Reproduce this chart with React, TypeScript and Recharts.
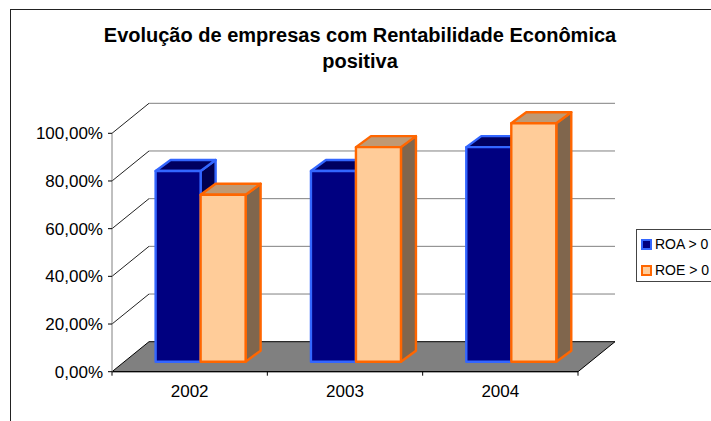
import React from "react";
import { BarChart, Bar, XAxis, YAxis, CartesianGrid, Legend } from "recharts";

const years = ["2002", "2003", "2004"];
const roaValues = [0.8, 0.8, 0.9];
const roeValues = [0.7, 0.9, 1.0];
const yTicks = [0, 0.2, 0.4, 0.6, 0.8, 1];
const titleLines = ["Evolução de empresas com Rentabilidade Econômica", "positiva"];

const series = [
  { key: "roa", name: "ROA > 0", fill: "#000080", stroke: "#3366FF", top: "#000060", side: "#000050" },
  { key: "roe", name: "ROE > 0", fill: "#FFCC99", stroke: "#FF6600", top: "#BF9973", side: "#80664D" },
];

const data = years.map((year, i) => ({ year, roa: roaValues[i], roe: roeValues[i] }));

const FONT = "'Liberation Sans', Arial, sans-serif";
const WALL_DX = 37;
const WALL_DY = -30;
const BAR_OFFSET_X = 11;
const BAR_OFFSET_Y = -10;
const BAR_DEPTH_X = 15;
const BAR_DEPTH_Y = -11;

const pct = (v: number) => `${(v * 100).toFixed(2).replace(".", ",")}%`;

function makeBar(s: (typeof series)[number]) {
  return function Bar3D(props: any) {
    const x = props.x + BAR_OFFSET_X;
    const y = props.y + BAR_OFFSET_Y;
    const { width: w, height: h } = props;
    const dx = BAR_DEPTH_X;
    const dy = BAR_DEPTH_Y;
    const common = { stroke: s.stroke, strokeWidth: 2.4, strokeLinejoin: "round" as const };
    return (
      <g>
        <polygon points={`${x + w},${y} ${x + w + dx},${y + dy} ${x + w + dx},${y + h + dy} ${x + w},${y + h}`} fill={s.side} {...common} />
        <polygon points={`${x},${y} ${x + dx},${y + dy} ${x + w + dx},${y + dy} ${x + w},${y}`} fill={s.top} {...common} />
        <rect x={x} y={y} width={w} height={h} fill={s.fill} {...common} />
      </g>
    );
  };
}

function WallLine(props: any) {
  const { x1, x2, y1 } = props;
  const isFloor = Math.abs(y1 - props.height - props.y) < 0.5;
  if (isFloor) {
    return (
      <g>
        <polygon
          points={`${x1},${y1} ${x1 + WALL_DX},${y1 + WALL_DY} ${x2 + WALL_DX},${y1 + WALL_DY} ${x2},${y1}`}
          fill="#808080"
          stroke="#000"
          strokeWidth={1}
        />
        {[0, 1, 2, 3].map((i) => {
          const tx = x1 + ((x2 - x1) * i) / years.length;
          return <line key={i} x1={tx} x2={tx} y1={y1} y2={y1 + 4} stroke="#000" strokeWidth={1} />;
        })}
      </g>
    );
  }
  return (
    <g>
      <line x1={x1} y1={y1} x2={x1 + WALL_DX} y2={y1 + WALL_DY} stroke="#222" strokeWidth={1} />
      <line x1={x1 + WALL_DX} y1={y1 + WALL_DY} x2={x2 + WALL_DX} y2={y1 + WALL_DY} stroke="#808080" strokeWidth={1} />
    </g>
  );
}

function LegendBox() {
  return (
    <div
      style={{
        boxSizing: "border-box",
        width: 80,
        height: 53,
        border: "1px solid #444",
        borderRight: "none",
        background: "#fff",
        fontFamily: FONT,
        fontSize: 14,
        color: "#000",
        position: "relative",
      }}
    >
      {series.map((s, i) => (
        <div key={s.key} style={{ position: "absolute", left: 4, top: 9 + i * 26, display: "flex", alignItems: "center", height: 10, whiteSpace: "nowrap" }}>
          <span style={{ boxSizing: "border-box", display: "inline-block", width: 11, height: 11, background: s.fill, border: `2px solid ${s.stroke}`, marginRight: 3 }} />
          <span>{s.name}</span>
        </div>
      ))}
    </div>
  );
}

export default function App() {
  return (
    <div style={{ position: "absolute", left: 0, top: 0, width: 711, height: 421, overflow: "hidden", background: "#fff" }}>
      <div style={{ position: "absolute", left: 10, top: 9, width: 701, height: 412, borderLeft: "1px solid #222", borderTop: "1px solid #222", boxSizing: "border-box" }} />
      {titleLines.map((line, i) => (
        <div
          key={line}
          style={{ position: "absolute", left: 0, width: 720, top: 22 + i * 26, textAlign: "center", fontFamily: FONT, fontWeight: 700, fontSize: 20, lineHeight: "26px", color: "#000", whiteSpace: "nowrap" }}
        >
          {line}
        </div>
      ))}
      <div style={{ position: "absolute", left: 0, top: 0 }}>
        <BarChart
          width={711}
          height={421}
          data={data}
          margin={{ top: 133.3, right: 53, bottom: 19.3, left: 0 }}
          barCategoryGap="21%"
          barGap={0}
          style={{ overflow: "visible" }}
        >
          <CartesianGrid vertical={false} horizontal={(p: any) => <WallLine key={p.key ?? p.index} {...p} />} />
          <XAxis
            dataKey="year"
            height={30}
            axisLine={{ stroke: "#000" }}
            tickLine={false}
            tick={{ fill: "#000", fontFamily: FONT, fontSize: 17 }}
            tickMargin={7}
            interval={0}
          />
          <YAxis
            width={112}
            domain={[0, 1]}
            ticks={yTicks}
            tickFormatter={pct}
            axisLine={{ stroke: "#808080" }}
            tickLine={{ stroke: "#000" }}
            tickSize={4}
            tickMargin={5}
            tick={{ fill: "#000", fontFamily: FONT, fontSize: 17 }}
          />
          <Legend
            layout="vertical"
            align="right"
            verticalAlign="top"
            wrapperStyle={{ left: 636, top: 229, width: 80 }}
            content={() => <LegendBox />}
          />
          {series.map((s) => (
            <Bar key={s.key} dataKey={s.key} name={s.name} fill={s.fill} stroke={s.stroke} shape={makeBar(s)} isAnimationActive={false} />
          ))}
        </BarChart>
      </div>
    </div>
  );
}
